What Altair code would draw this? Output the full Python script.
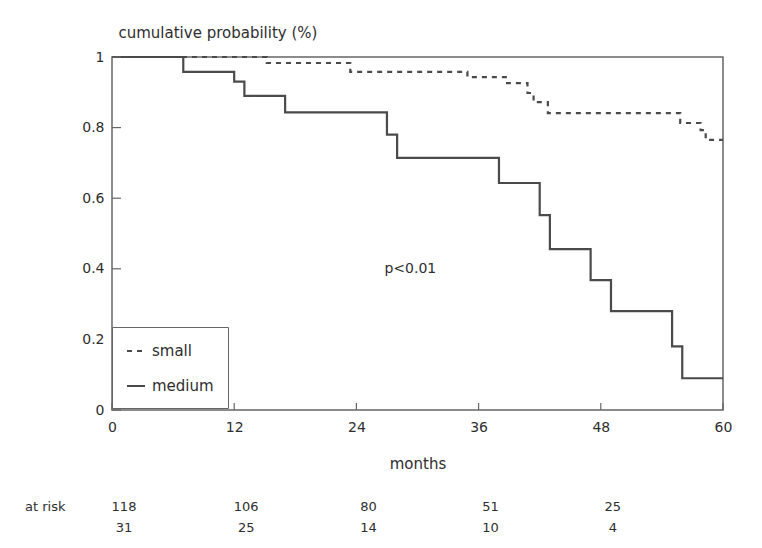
import altair as alt
import pandas as pd

# Kaplan-Meier step curves (month of change, value after change)
small_months = [0, 15.2, 23.4, 34.9, 38.8, 40.8, 41.4, 42.8, 55.8, 57.8, 58.3, 60]
small_probs = [1.0, 0.983, 0.958, 0.943, 0.926, 0.898, 0.872, 0.841, 0.813, 0.793, 0.765, 0.765]
medium_months = [0, 7, 12, 13, 17, 27, 28, 38, 42, 43, 47, 49, 55, 56, 60]
medium_probs = [1.0, 0.958, 0.93, 0.89, 0.843, 0.78, 0.714, 0.643, 0.552, 0.456, 0.368, 0.28, 0.18, 0.09, 0.09]

x_ticks = [0, 12, 24, 36, 48, 60]
y_ticks = [0, 0.2, 0.4, 0.6, 0.8, 1]

risk_months = [0, 12, 24, 36, 48]
risk_small = ["118", "106", "80", "51", "25"]
risk_medium = ["31", "25", "14", "10", "4"]

annot_month = [29.3]
annot_prob = [0.40]
annot_text = ["p<0.01"]

W, H = 611, 353
FONT = "DejaVu Sans"
INK = "#2e2e2e"

df = pd.concat([
    pd.DataFrame({"month": small_months, "prob": small_probs, "group": "small"}),
    pd.DataFrame({"month": medium_months, "prob": medium_probs, "group": "medium"}),
])

xscale = alt.Scale(domain=[0, 60], nice=False, zero=False)
yscale = alt.Scale(domain=[0, 1], nice=False)

xaxis = alt.Axis(values=x_ticks, tickSize=0, domain=False, grid=False, labelFlush=False,
                 labelFont=FONT, labelFontSize=14, labelColor=INK, labelPadding=10,
                 title="months", titleFont=FONT, titleFontSize=15, titleFontWeight="normal",
                 titleColor=INK, titleY=53, titleBaseline="middle")
yaxis = alt.Axis(values=y_ticks, format="~g", tickSize=0, domain=False, grid=False,
                 labelFont=FONT, labelFontSize=14, labelColor=INK, labelPadding=8,
                 title="cumulative probability (%)", titleFont=FONT, titleFontSize=15,
                 titleFontWeight="normal", titleColor=INK, titleAngle=0, titleAlign="left",
                 titleX=6, titleY=-25, titleBaseline="middle")

lines = alt.Chart(df).mark_line(interpolate="step-after", strokeWidth=2.2, color="#4a4a4a").encode(
    x=alt.X("month:Q", scale=xscale, axis=xaxis),
    y=alt.Y("prob:Q", scale=yscale, axis=yaxis),
    strokeDash=alt.StrokeDash(
        "group:N",
        scale=alt.Scale(domain=["small", "medium"], range=[[5, 5], [1, 0]]),
        legend=alt.Legend(orient="none", legendX=0, legendY=270, title=None,
                          strokeColor="#666666", fillColor="white", padding=14,
                          symbolType="stroke", symbolSize=324, symbolStrokeWidth=2,
                          symbolStrokeColor="#4a4a4a", labelFont=FONT, labelFontSize=15,
                          labelColor=INK, labelOffset=6, rowPadding=17),
    ),
    detail="group:N",
)

annot = alt.Chart(pd.DataFrame({"month": annot_month, "prob": annot_prob, "t": annot_text})).mark_text(
    font=FONT, fontSize=14, color=INK, align="center", baseline="middle"
).encode(x=alt.X("month:Q", scale=xscale), y=alt.Y("prob:Q", scale=yscale), text="t:N")

yt = alt.Chart(pd.DataFrame({"v": y_ticks})).mark_rule(color="#666666", strokeWidth=1.2).encode(
    y=alt.Y("v:Q", scale=yscale), x=alt.value(0), x2=alt.value(9))
xt = alt.Chart(pd.DataFrame({"v": x_ticks})).mark_rule(color="#666666", strokeWidth=1.2).encode(
    x=alt.X("v:Q", scale=xscale), y=alt.value(H), y2=alt.value(H - 7))

risk_df = pd.DataFrame({"month": risk_months, "s": risk_small, "m": risk_medium})
row1 = alt.Chart(risk_df).mark_text(font=FONT, fontSize=13, color=INK, dx=12, baseline="middle").encode(
    x=alt.X("month:Q", scale=xscale), y=alt.value(450), text="s:N")
row2 = alt.Chart(risk_df).mark_text(font=FONT, fontSize=13, color=INK, dx=12, baseline="middle").encode(
    x=alt.X("month:Q", scale=xscale), y=alt.value(471), text="m:N")
risk_label = alt.Chart(pd.DataFrame({"t": ["at risk"]})).mark_text(
    font=FONT, fontSize=13, color=INK, align="left", baseline="middle").encode(
    x=alt.value(-87), y=alt.value(450), text="t:N")

chart = alt.layer(lines, annot, yt, xt, row1, row2, risk_label).properties(
    width=W, height=H,
    autosize=alt.AutoSizeParams(type="none"),
    padding={"left": 104, "top": 49, "right": 30, "bottom": 130},
    background="white",
).configure_view(stroke="#666666", strokeWidth=1.5)

chart.save("out.html", embed_options={"renderer": "svg", "actions": False})
